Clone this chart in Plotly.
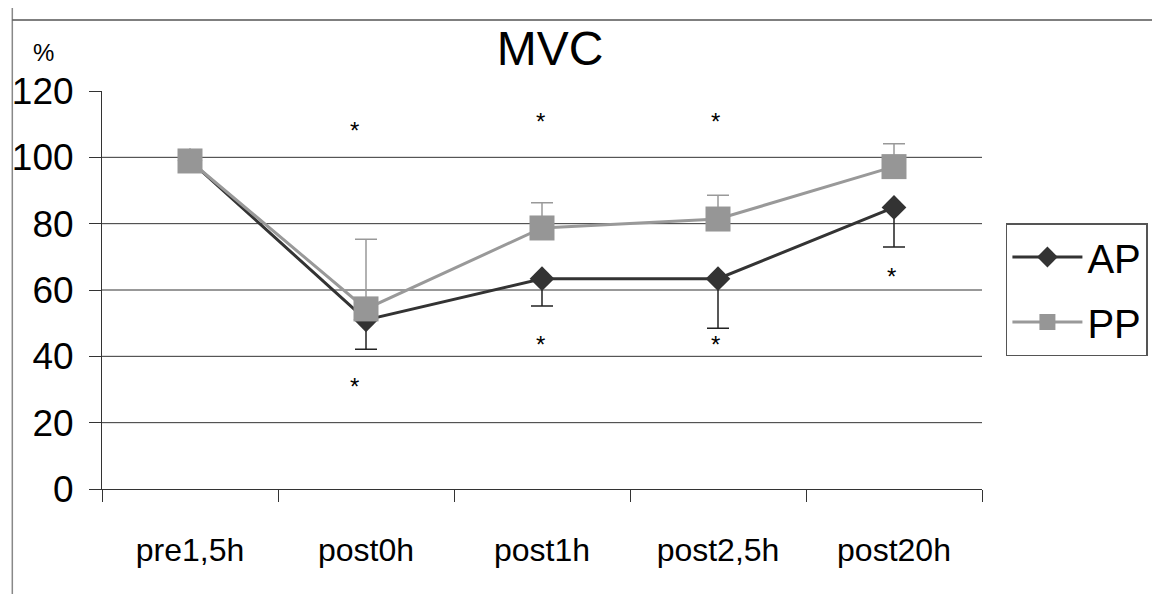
import plotly.graph_objects as go

# ---- data ----
categories = ["pre1,5h", "post0h", "post1h", "post2,5h", "post20h"]
ap_values = [99.0, 51.0, 63.4, 63.4, 84.9]
ap_err_minus = [0.0, 8.9, 8.2, 14.9, 11.9]
pp_values = [98.9, 54.3, 78.7, 81.4, 97.2]
pp_err_plus = [0.0, 21.0, 7.6, 7.2, 6.9]
star_cats = ["post0h", "post0h", "post1h", "post1h", "post2,5h", "post2,5h", "post20h"]
star_vals = [108.2, 30.8, 110.7, 43.7, 110.7, 43.7, 64.0]
star_shift = [-12, -12, -2, -2, -3, -3, -3]
y_ticks = [0, 20, 40, 60, 80, 100, 120]
grid_vals = [20, 40, 60, 80, 100]

# page has an 8px body margin; work in page pixels and convert
OFF = 8
W, H = 1160 - OFF, 594 - OFF
L, T = 102 - OFF, 91 - OFF
R = W - (985 - OFF)
B = H - (489 - OFF)
PW, PH = W - L - R, H - T - B

def px(x):
    return (x - OFF - L) / PW

def py(y):
    return (H - B - (y - OFF)) / PH

REG = "Liberation Sans, Arial, sans-serif"

fig = go.Figure()
fig.add_trace(go.Scatter(
    x=categories, y=ap_values, name="AP", mode="lines+markers", legendgroup="a",
    line=dict(color="#333333", width=3),
    marker=dict(symbol="diamond", size=19, color="#333333"),
    error_y=dict(type="data", symmetric=False, array=[0] * len(ap_values),
                 arrayminus=ap_err_minus, color="#222222", thickness=1.5, width=11),
))
fig.add_trace(go.Scatter(
    x=categories, y=pp_values, name="PP", mode="lines+markers", legendgroup="b",
    line=dict(color="#999999", width=3),
    marker=dict(symbol="square", size=25, color="#969696"),
    error_y=dict(type="data", symmetric=False, array=pp_err_plus,
                 arrayminus=[0] * len(pp_values), color="#999999", thickness=1.5, width=11),
))

for c, v, s in zip(star_cats, star_vals, star_shift):
    fig.add_annotation(x=c, y=v, text="*", showarrow=False, xshift=s,
                       font=dict(family=REG, size=24, color="black"),
                       xanchor="center", yanchor="middle")

shapes = []
for g in grid_vals:
    shapes.append(dict(type="line", xref="paper", yref="y", x0=0, x1=1, y0=g, y1=g,
                       line=dict(color="#333333", width=1), layer="below"))
# outer frame of the original picture
shapes.append(dict(type="line", xref="paper", yref="paper", x0=px(12), x1=px(12),
                   y0=py(5), y1=py(594), line=dict(color="#888888", width=1.5)))
shapes.append(dict(type="line", xref="paper", yref="paper", x0=px(12), x1=px(1160),
                   y0=py(20), y1=py(20), line=dict(color="#555555", width=1.5)))
shapes.append(dict(type="line", xref="paper", yref="paper", x0=px(1157), x1=px(1157),
                   y0=py(20), y1=py(594), line=dict(color="#dddddd", width=2)))

fig.add_annotation(xref="paper", yref="paper", x=px(43), y=py(53), text="%",
                   xanchor="center", yanchor="middle",
                   showarrow=False, font=dict(family=REG, size=24, color="black"))

fig.update_layout(
    width=W, height=H,
    margin=dict(l=L, r=R, t=T, b=B),
    paper_bgcolor="white", plot_bgcolor="white",
    title=dict(text="MVC", x=(550 - OFF) / W, xanchor="center", xref="container",
               y=1 - (48 - OFF) / H, yanchor="middle", yref="container",
               font=dict(family=REG, size=48, color="black")),
    shapes=shapes,
    showlegend=True,
    legend=dict(x=px(1009), y=py(223), xanchor="left", yanchor="top",
                bordercolor="#555555", borderwidth=1.5, bgcolor="white",
                font=dict(family=REG, size=40, color="black"),
                tracegroupgap=10, itemwidth=70),
    xaxis=dict(type="category", categoryorder="array", categoryarray=categories,
               range=[-0.5, len(categories) - 0.5],
               tickson="boundaries", ticks="outside", ticklen=12, tickcolor="#333333",
               showline=True, linecolor="#333333", linewidth=1, showgrid=False,
               zeroline=False, ticklabelstandoff=33, automargin=False,
               tickfont=dict(family=REG, size=32, color="black")),
    yaxis=dict(range=[0, 120], tickvals=y_ticks, ticks="outside", ticklen=12,
               tickcolor="#333333", showline=True, linecolor="#333333", linewidth=1,
               showgrid=False, zeroline=False, ticklabelstandoff=8, automargin=False,
               tickfont=dict(family=REG, size=37, color="black")),
)

fig.write_html("out.html")
